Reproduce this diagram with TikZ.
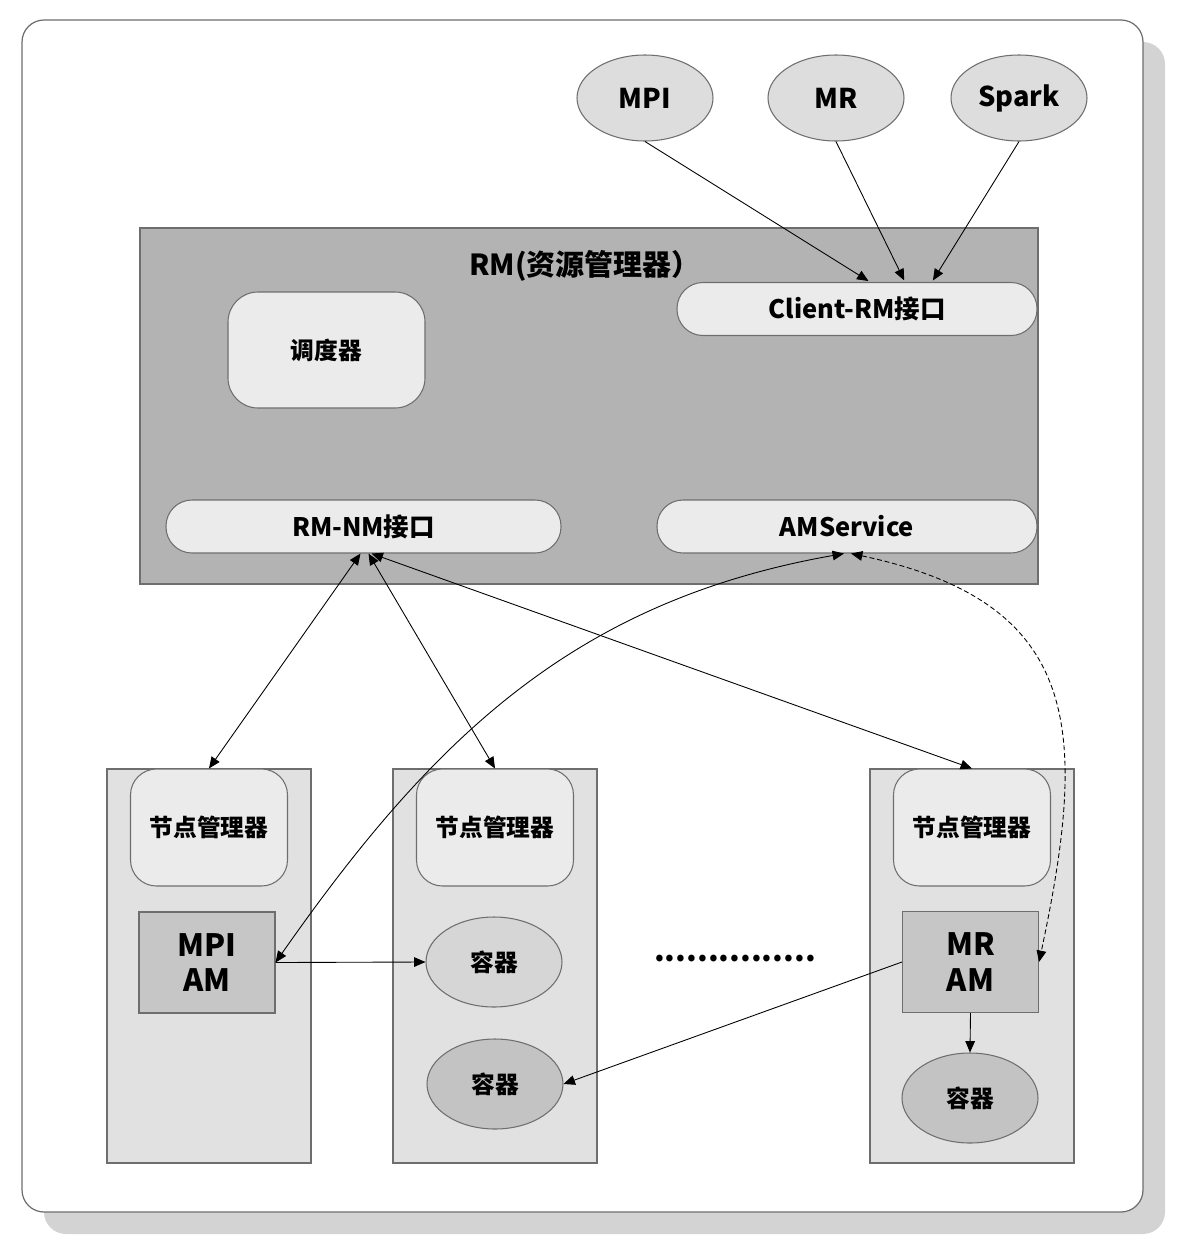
\documentclass[tikz,border=0pt]{standalone}
\usepackage{fontspec}
\setmainfont{Noto Sans CJK SC}
\usetikzlibrary{arrows.meta,positioning,shapes.geometric,calc}
\definecolor{edge}{HTML}{6E6E6E}
\definecolor{shadowc}{HTML}{D3D3D3}
\definecolor{rmc}{HTML}{B3B3B3}
\definecolor{light}{HTML}{EBEBEB}
\definecolor{slavec}{HTML}{E1E1E1}
\definecolor{appc}{HTML}{DDDDDD}
\definecolor{amc}{HTML}{C6C6C6}
\definecolor{contc}{HTML}{D6D6D6}
\definecolor{contdark}{HTML}{C3C3C3}
\newcommand{\px}[1]{#1*0.02cm}
\tikzset{
  lbl/.style={font=\bfseries\fontsize{13.5}{16}\selectfont, text=black},
  rmbox/.style={draw=edge, fill=rmc, line width=0.6pt, minimum width=\px{898}, minimum height=\px{356}, inner sep=0pt},
  pill/.style={lbl, draw=edge, fill=light, line width=0.6pt, rounded corners=\px{26}, minimum height=\px{53}, inner sep=0pt, font=\bfseries\fontsize{14.5}{17}\selectfont},
  sched/.style={lbl, draw=edge, fill=light, line width=0.6pt, rounded corners=\px{30}, minimum width=\px{197}, minimum height=\px{116}, inner sep=0pt},
  app/.style={ellipse, draw=edge, fill=appc, line width=0.6pt, minimum width=\px{136}, minimum height=\px{86}, inner sep=0pt, font=\bfseries\fontsize{15.5}{18}\selectfont},
  slave/.style={draw=edge, fill=slavec, line width=0.6pt, minimum width=\px{204}, minimum height=\px{394}, inner sep=0pt},
  nmbox/.style={lbl, draw=edge, fill=light, line width=0.6pt, rounded corners=\px{26}, minimum width=\px{157}, minimum height=\px{117}, inner sep=0pt},
  amstyle/.style={draw=edge, fill=amc, line width=0.6pt, minimum width=\px{136}, minimum height=\px{101}, inner sep=0pt, align=center, font=\bfseries\fontsize{17.5}{20}\selectfont},
  cont/.style={lbl, ellipse, draw=edge, fill=contc, line width=0.6pt, minimum width=\px{136}, minimum height=\px{90}, inner sep=0pt},
  link/.style={-{Triangle[length=6.5pt, width=5.5pt]}, line width=0.5pt},
  link2/.style={{Triangle[length=6.5pt, width=5.5pt]}-{Triangle[length=6.5pt, width=5.5pt]}, line width=0.5pt},
  amlink/.style={link2, dash pattern=on 2.8pt off 1.6pt},
}

\begin{document}
\begin{tikzpicture}[x=0.02cm, y=-0.02cm]
  \useasboundingbox (0,0) rectangle (1185,1248);
  % outer frame with shadow
  \fill[shadowc, rounded corners=\px{22}] (44,42) rectangle (1165,1234);
  \draw[edge, fill=white, line width=0.7pt, rounded corners=\px{22}] (22,20) rectangle (1143,1212);

  % resource manager
  \node[rmbox] (rm) at (589,406) {};
  \node[lbl, font=\bfseries\fontsize{16.5}{19}\selectfont] (rmtitle) at (585,266) {RM(资源管理器）};
  \node[sched] (sched) at (326.5,350) {调度器};
  \node[pill, minimum width=\px{360}] (client) at (857,309) {Client-RM接口};
  \node[pill, minimum width=\px{395}] (rmnm) at (363.5,526.5) {RM-NM接口};
  \node[pill, minimum width=\px{380}] (amsvc) at (847,526.5) {AMService};

  % client applications
  \foreach \n/\t/\x in {mpi/MPI/645, mr/MR/836, spark/Spark/1019}
    \node[app] (\n) at (\x,98) {\t};

  % slave nodes
  \foreach \i/\x in {1/209, 2/495, 3/972} {
    \node[slave] (n\i) at (\x,966) {};
    \node[nmbox, below=0pt of n\i.north] (nm\i) {节点管理器};
  }
  \node[amstyle] (mpiam) at (207,962.5) {MPI\\AM};
  \node[amstyle] (mram) at (970.5,962) {MR\\AM};
  \node[cont] (c1) at (494,962) {容器};
  \node[cont, fill=contdark] (c2) at (495,1084) {容器};
  \node[cont, fill=contdark] (c3) at (970,1098) {容器};
  \node[lbl, anchor=base, font=\bfseries\fontsize{17.5}{20}\selectfont] (gap) at (735,961) {...............};

  % connectors
  \foreach \s/\dx in {mpi/13, mr/48, spark/75}
    \draw[link, shorten >=1pt] (\s.south) -- ([xshift=\px{\dx}]client.north);
  \draw[link2] ([xshift=\px{-3}]rmnm.south) -- (nm1.north);
  \draw[link2] ([xshift=\px{5}]rmnm.south) -- (nm2.north);
  \draw[link2] ([xshift=\px{8}]rmnm.south) -- (nm3.north);
  \draw[link2] (mpiam.east) to[out=55, in=190] ([xshift=\px{-3}]amsvc.south);
  \draw[amlink] ([xshift=\px{4}]amsvc.south) to[out=-12, in=78, looseness=1.35] (mram.east);
  \draw[link] (mpiam.east) -- (c1.west);
  \draw[link] (mram.west) -- (c2.east);
  \draw[link] (mram.south) -- (c3.north);
\end{tikzpicture}
\end{document}
